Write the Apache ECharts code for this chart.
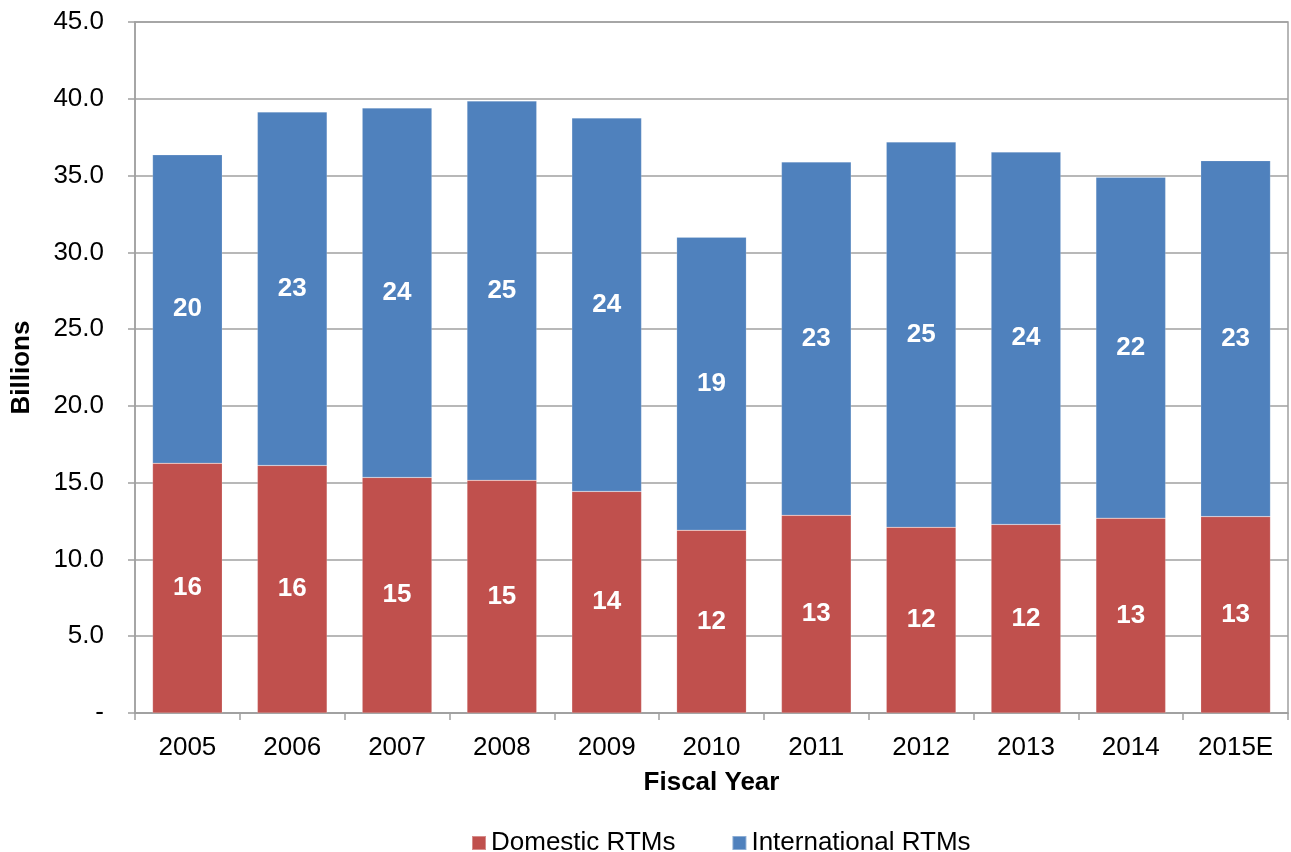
<!DOCTYPE html>
<html><head><meta charset="utf-8">
<script src="https://cdn.jsdelivr.net/npm/echarts@6/dist/echarts.min.js"></script>
<style>html,body{margin:0;padding:0;background:#fff}#c{width:1291px;height:852px}</style>
</head><body><div id="c"></div>
<script>
const categories = ['2005','2006','2007','2008','2009','2010','2011','2012','2013','2014','2015E'];
const domestic = [16.26, 16.12, 15.34, 15.15, 14.43, 11.9, 12.87, 12.09, 12.28, 12.69, 12.79];
const international = [20.09, 23.02, 24.06, 24.71, 24.32, 19.08, 23.02, 25.1, 24.25, 22.2, 23.18];
const seriesNames = ['Domestic RTMs', 'International RTMs'];
const yTicks = {min: 0, max: 45, interval: 5};

const font = 'Arial, "Liberation Sans", sans-serif';
const labelStyle = {show: true, position: 'inside', color: '#fff', fontWeight: 'bold', fontSize: 26, fontFamily: font,
  formatter: p => Math.round(p.value)};
const chart = echarts.init(document.getElementById('c'), null, {renderer: 'canvas'});
chart.setOption({
  animation: false,
  textStyle: {fontFamily: font},
  grid: {left: 135, right: 3, top: 22, bottom: 139, show: true, borderColor: '#a0a0a0', borderWidth: 1.5},
  legend: {
    top: 825, left: 466, itemWidth: 14, itemHeight: 14, itemGap: 56,
    icon: 'rect',
    textStyle: {fontSize: 26, color: '#000', fontFamily: font},
    data: seriesNames
  },
  xAxis: {
    type: 'category', data: categories,
    name: 'Fiscal Year', nameLocation: 'middle', nameGap: 57,
    nameTextStyle: {fontSize: 26, fontWeight: 'bold', color: '#000', fontFamily: font},
    axisLine: {lineStyle: {color: '#a0a0a0', width: 1.5}},
    axisTick: {show: true, length: 7, lineStyle: {color: '#a0a0a0', width: 1.5}},
    axisLabel: {fontSize: 26, color: '#000', margin: 22, fontFamily: font}
  },
  yAxis: {
    type: 'value', min: yTicks.min, max: yTicks.max, interval: yTicks.interval,
    name: 'Billions', nameLocation: 'middle', nameGap: 100,
    nameTextStyle: {fontSize: 26, fontWeight: 'bold', color: '#000', fontFamily: font},
    axisLine: {show: true, lineStyle: {color: '#a0a0a0', width: 1.5}},
    axisTick: {show: true, length: 7, lineStyle: {color: '#a0a0a0', width: 1.5}},
    splitLine: {lineStyle: {color: '#a0a0a0', width: 1.5}},
    axisLabel: {fontSize: 26, color: '#000', margin: 31, fontFamily: font,
      formatter: v => v === 0 ? '-' : v.toFixed(1)}
  },
  series: [
    {name: seriesNames[0], type: 'bar', stack: 'a', data: domestic, barWidth: '66.5%',
     itemStyle: {color: '#C0504D', borderColor: 'rgba(255,255,255,0.35)', borderWidth: 0.5}, label: labelStyle},
    {name: seriesNames[1], type: 'bar', stack: 'a', data: international, barWidth: '66.5%',
     itemStyle: {color: '#4F81BD', borderColor: 'rgba(255,255,255,0.35)', borderWidth: 0.5}, label: labelStyle}
  ]
});
</script></body></html>
